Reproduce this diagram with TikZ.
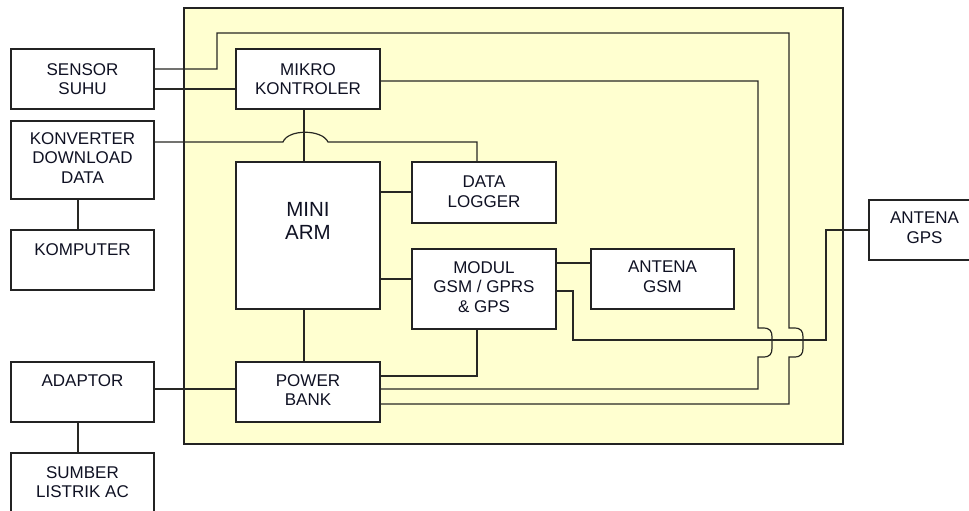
\documentclass[tikz,border=0pt]{standalone}
\usepackage{fontspec}
\setmainfont{Liberation Sans}
\definecolor{unitfill}{RGB}{255,255,208}
\definecolor{wirec}{RGB}{40,40,36}
\definecolor{boxc}{RGB}{35,35,35}
\definecolor{txtc}{RGB}{15,17,35}
\begin{document}
\begin{tikzpicture}[x=1pt,y=-1pt,
  wire/.style={line width=1.2pt, draw=wirec},
  blk/.style={draw=boxc, line width=1.3pt, fill=white, inner sep=0pt},
  lbl/.style={anchor=north, inner sep=0pt, align=center, text=txtc,
              font=\fontsize{17}{19.5}\selectfont},
  biglbl/.style={lbl, font=\fontsize{20.5}{23}\selectfont},
]
\useasboundingbox (0,0) rectangle (969,511);
\clip (0,0) rectangle (969,511);

% main unit enclosure
\node[draw=boxc, line width=1.3pt, fill=unitfill, inner sep=0pt,
      minimum width=659pt, minimum height=436pt] (unit) at (513.5,226) {};

% blocks
\node[blk, minimum width=143pt, minimum height=60pt] (sensor) at (82.5,79) {};
\node[blk, minimum width=143pt, minimum height=78pt] (konv)   at (82.5,160) {};
\node[blk, minimum width=143pt, minimum height=60pt] (komp)   at (82.5,260) {};
\node[blk, minimum width=143pt, minimum height=60pt] (adaptor) at (82.5,392) {};
\node[blk, minimum width=143pt, minimum height=60pt] (sumber) at (82.5,483) {};
\node[blk, minimum width=144pt, minimum height=60pt] (mikro)  at (308,79) {};
\node[blk, minimum width=144pt, minimum height=147pt] (arm)   at (308,235.5) {};
\node[blk, minimum width=144pt, minimum height=60pt] (power)  at (308,392) {};
\node[blk, minimum width=144pt, minimum height=61pt] (logger) at (484,192.5) {};
\node[blk, minimum width=144pt, minimum height=80pt] (modul)  at (484,289) {};
\node[blk, minimum width=143pt, minimum height=60pt] (agsm)   at (662.5,279) {};
\node[blk, minimum width=143pt, minimum height=60pt] (agps)   at (940.5,230) {};

% connectors
\draw[wire] (sensor.east |- 0,69) -- (217,69) -- (217,33) -- (789,33) -- (789,328)
  -- (794,328) .. controls (801,328) and (803,331) .. (803,337) -- (803,348)
  .. controls (803,354) and (801,357) .. (794,357) -- (789,357)
  -- (789,404) -- (power.east |- 0,404);
\draw[wire] (sensor.east |- 0,89) -- (mikro.west |- 0,89);
\draw[wire] (mikro.east |- 0,81) -- (758,81) -- (758,328)
  -- (763,328) .. controls (770,328) and (772,331) .. (772,337) -- (772,348)
  .. controls (772,354) and (770,357) .. (763,357) -- (758,357)
  -- (758,389) -- (power.east |- 0,389);
\draw[wire] (mikro.south -| 304,0) -- (arm.north -| 304,0);
\draw[wire] (arm.south -| 304,0) -- (power.north -| 304,0);
\draw[wire] (konv.east |- 0,142) -- (283,142)
  .. controls (288,129) and (322,129) .. (328,142) -- (477,142)
  -- (logger.north -| 477,0);
\draw[wire] (arm.east |- 0,192) -- (logger.west |- 0,192);
\draw[wire] (arm.east |- 0,279) -- (modul.west |- 0,279);
\draw[wire] (modul.east |- 0,263) -- (agsm.west |- 0,263);
\draw[wire] (modul.east |- 0,291) -- (573,291) -- (573,340) -- (826,340)
  -- (826,230) -- (agps.west);
\draw[wire] (modul.south -| 477,0) -- (477,376) -- (power.east |- 0,376);
\draw[wire] (konv.south -| 78,0) -- (komp.north -| 78,0);
\draw[wire] (adaptor.east |- 0,389) -- (power.west |- 0,389);
\draw[wire] (adaptor.south -| 78,0) -- (sumber.north -| 78,0);

% labels
\node[lbl] (t-sensor) at (82.5,63) {SENSOR\\SUHU};
\node[lbl] (t-konv)   at (82.5,132) {KONVERTER\\DOWNLOAD\\DATA};
\node[lbl] (t-komp)   at (82.5,243) {KOMPUTER};
\node[lbl] (t-adaptor) at (82.5,374) {ADAPTOR};
\node[lbl] (t-sumber) at (82.5,466) {SUMBER\\LISTRIK AC};
\node[lbl] (t-mikro)  at (308,63) {MIKRO\\KONTROLER};
\node[biglbl] (t-arm) at (308,201.7) {MINI\\ARM};
\node[lbl] (t-power)  at (308,374) {POWER\\BANK};
\node[lbl] (t-logger) at (484,176) {DATA\\LOGGER};
\node[lbl] (t-modul)  at (484,261) {MODUL\\GSM / GPRS\\\& GPS};
\node[lbl] (t-agsm)   at (662.5,261) {ANTENA\\GSM};
\node[lbl] (t-agps)   at (924.5,212) {ANTENA\\GPS};
\end{tikzpicture}
\end{document}
